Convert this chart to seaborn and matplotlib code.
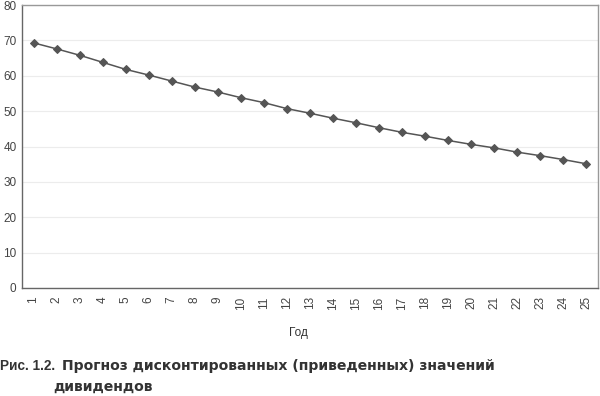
import numpy as np
import pandas as pd
import seaborn as sns
import matplotlib.pyplot as plt

# values
years = list(range(1, 26))
values = [69.3, 67.6, 65.8, 63.8, 61.8, 60.2, 58.5, 56.8, 55.4, 53.8,
          52.4, 50.7, 49.4, 48.0, 46.7, 45.3, 44.0, 42.9, 41.7, 40.6,
          39.6, 38.4, 37.4, 36.3, 35.1]
y_ticks = [0, 10, 20, 30, 40, 50, 60, 70, 80]
x_title = 'Год'
caption_head = 'Рис. 1.2.'
caption_text = 'Прогноз дисконтированных (приведенных) значений'
caption_text2 = 'дивидендов'

df = pd.DataFrame({'year': years, 'value': values})

sns.set_style('white')
plt.rcParams['font.family'] = ['Liberation Sans', 'DejaVu Sans']

fig = plt.figure(figsize=(6, 3.96), dpi=100)
ax = fig.add_axes([22 / 600, 108 / 396, 576 / 600, 283 / 396])

sns.lineplot(data=df, x='year', y='value', ax=ax, color='#555555',
             linewidth=1.1, marker='D', markersize=4.5,
             markeredgecolor='#555555', markerfacecolor='#555555')

ax.set_xlim(0.5, 25.5)
ax.set_ylim(0, 80)
ax.set_yticks(y_ticks)
ax.set_xticks(years)
ax.set_xticks(np.arange(0.5, 26, 1), minor=True)
ax.set_xticklabels([str(y) for y in years], rotation=90)
ax.tick_params(axis='both', which='major', labelsize=8.5, colors='#444444',
               length=0, pad=4)
ax.tick_params(axis='x', which='minor', length=4, color='#dddddd', direction='out')
ax.tick_params(axis='x', which='major', pad=6)
ax.yaxis.grid(True, color='#ececec', linewidth=0.8)
ax.set_axisbelow(True)

for side in ['left', 'bottom']:
    ax.spines[side].set_color('#666666')
    ax.spines[side].set_linewidth(1.0)
for side in ['top', 'right']:
    ax.spines[side].set_color('#999999')
    ax.spines[side].set_linewidth(1.0)

ax.set_xlabel('')
ax.set_ylabel('')

fig.text(298 / 600, 1 - 333 / 396, x_title, ha='center', va='center',
         fontsize=8.5, color='#333333')

fig.text(0.0, 1 - 370 / 396, caption_head, ha='left', va='baseline',
         fontsize=9.8, fontweight='bold', color='#333333')
fig.text(62 / 600, 1 - 370 / 396, caption_text, ha='left', va='baseline',
         fontsize=10.1, fontweight='bold', color='#333333',
         family=['DejaVu Sans'])
fig.text(53 / 600, 1 - 391 / 396, caption_text2, ha='left', va='baseline',
         fontsize=10.1, fontweight='bold', color='#333333',
         family=['DejaVu Sans'])

fig.savefig('out.png', dpi=100)
